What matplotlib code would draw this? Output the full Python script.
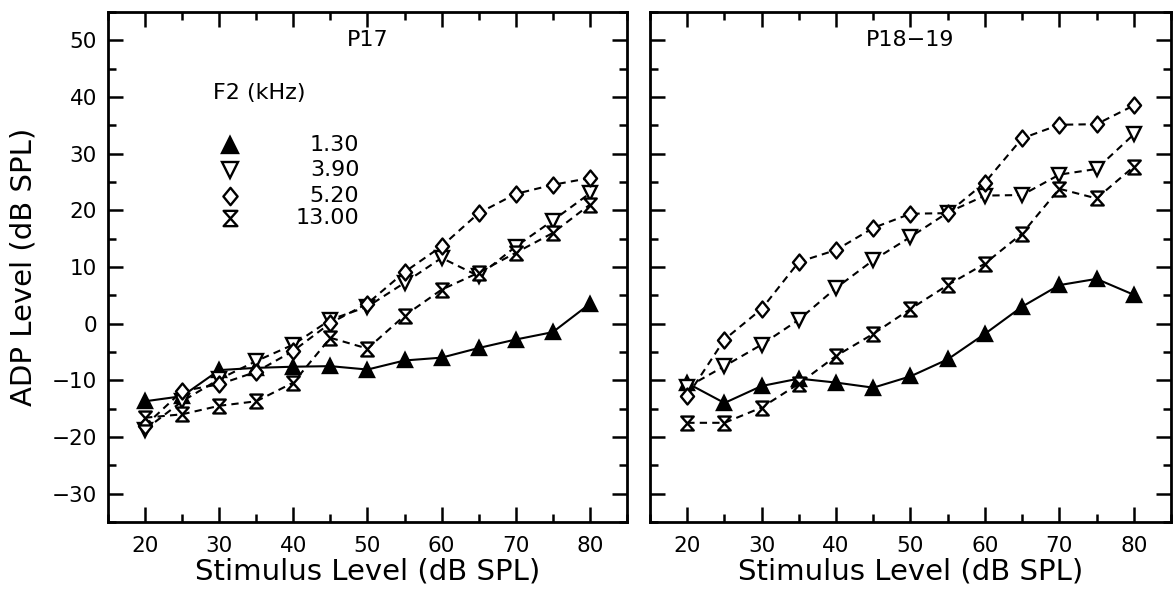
import numpy as np
import matplotlib
matplotlib.use("Agg")
import matplotlib.pyplot as plt
from matplotlib.path import Path
from matplotlib.ticker import MultipleLocator

# stimulus levels (dB SPL)
levels = np.arange(20, 85, 5)

f2_labels = ["1.30", "3.90", "5.20", "13.00"]

# P17
p17_130 = [-13.7, -12.8, -8.2, -7.8, -7.6, -7.5, -8.1, -6.5, -6.0, -4.3, -2.8, -1.5, 3.5]
p17_390 = [-18.7, -13.7, -9.8, -6.6, -3.7, 0.7, 3.0, 7.2, 11.6, 8.4, 13.6, 18.2, 23.0]
p17_520 = [-18.0, -11.9, -10.7, -8.5, -4.8, 0.1, 3.55, 9.1, 13.65, 19.5, 22.9, 24.5, 25.7]
p17_1300 = [-16.6, -16.0, -14.5, -13.7, -10.4, -2.5, -4.4, 1.4, 6.0, 9.0, 12.5, 16.0, 21.0]

# P18-19
p18_130 = [-10.5, -14.0, -11.0, -9.7, -10.4, -11.3, -9.3, -6.3, -1.8, 3.0, 6.8, 7.9, 5.1]
p18_390 = [-11.2, -7.5, -3.7, 0.7, 6.3, 11.2, 15.3, 19.6, 22.6, 22.7, 26.3, 27.3, 33.4]
p18_520 = [-12.8, -2.8, 2.6, 10.9, 13.0, 16.9, 19.4, 19.5, 24.9, 32.7, 35.1, 35.2, 38.5]
p18_1300 = [-17.5, -17.5, -14.8, -10.6, -5.7, -1.8, 2.6, 6.8, 10.6, 15.9, 23.8, 22.1, 27.7]

panels = [("P17", [p17_130, p17_390, p17_520, p17_1300]),
          ("P18\u221219", [p18_130, p18_390, p18_520, p18_1300])]

# marker shapes
diamond = Path([(0, 1), (0.82, 0), (0, -1), (-0.82, 0), (0, 1)],
               [Path.MOVETO, Path.LINETO, Path.LINETO, Path.LINETO, Path.CLOSEPOLY])
hourglass = Path([(-0.9, 1), (0.9, 1), (-0.9, -1), (0.9, -1), (-0.9, 1)],
                 [Path.MOVETO, Path.LINETO, Path.LINETO, Path.LINETO, Path.CLOSEPOLY])

styles = [
    dict(marker="^", ms=10, mfc="black", ls="-", zorder=2),
    dict(marker="v", ms=10, mfc="white", ls=(0, (3.5, 2.5)), zorder=3),
    dict(marker=diamond, ms=11.5, mfc="white", ls=(0, (3.5, 2.5)), zorder=4),
    dict(marker=hourglass, ms=10, mfc="white", ls=(0, (3.5, 2.5)), zorder=5),
]

plt.rcParams["font.family"] = "DejaVu Sans"

fig = plt.figure(figsize=(11.74, 5.91), dpi=100)
ax1 = fig.add_axes([0.092, 0.1168, 0.442, 0.8629])
ax2 = fig.add_axes([0.5537, 0.1168, 0.4437, 0.8629])

for ax, (title, series) in zip([ax1, ax2], panels):
    for ys, st in zip(series, styles):
        ax.plot(levels, ys, color="black", lw=1.5, mec="black", mew=1.7,
                marker=st["marker"], ms=st["ms"], mfc=st["mfc"],
                ls=st["ls"], zorder=st["zorder"], clip_on=False)
    ax.set_xlim(15, 85)
    ax.set_ylim(-35, 55)
    ax.xaxis.set_major_locator(MultipleLocator(10))
    ax.xaxis.set_minor_locator(MultipleLocator(5))
    ax.yaxis.set_major_locator(MultipleLocator(10))
    ax.yaxis.set_minor_locator(MultipleLocator(5))
    ax.tick_params(which="both", direction="in", top=True, right=True, width=1.8)
    ax.tick_params(which="major", length=11, labelsize=15.5, pad=8)
    ax.tick_params(axis="x", which="major", pad=10)
    ax.tick_params(which="minor", length=6)
    for sp in ax.spines.values():
        sp.set_linewidth(2)
    ax.text(50, 50, title, ha="center", va="center", fontsize=16)
    ax.set_xlabel("Stimulus Level (dB SPL)", fontsize=21, labelpad=1)

ax1.set_yticks(np.arange(-30, 51, 10))
ax2.tick_params(axis="y", labelleft=False)
ax1.set_ylabel("ADP Level (dB SPL)", fontsize=21, labelpad=10)

# legend block in the left panel
ax1.text(29.1, 40.7, "F2 (kHz)", ha="left", va="center", fontsize=16)
leg_y = [31.6, 27.2, 22.6, 18.6]
for yy, st, lab in zip(leg_y, styles, f2_labels):
    ax1.plot([31.4], [yy], color="black", ls="none", marker=st["marker"],
             ms=st["ms"] + 1, mfc=st["mfc"], mec="black", mew=1.7)
    ax1.text(48.9, yy, lab, ha="right", va="center", fontsize=16)

fig.savefig("out.png", dpi=100)
